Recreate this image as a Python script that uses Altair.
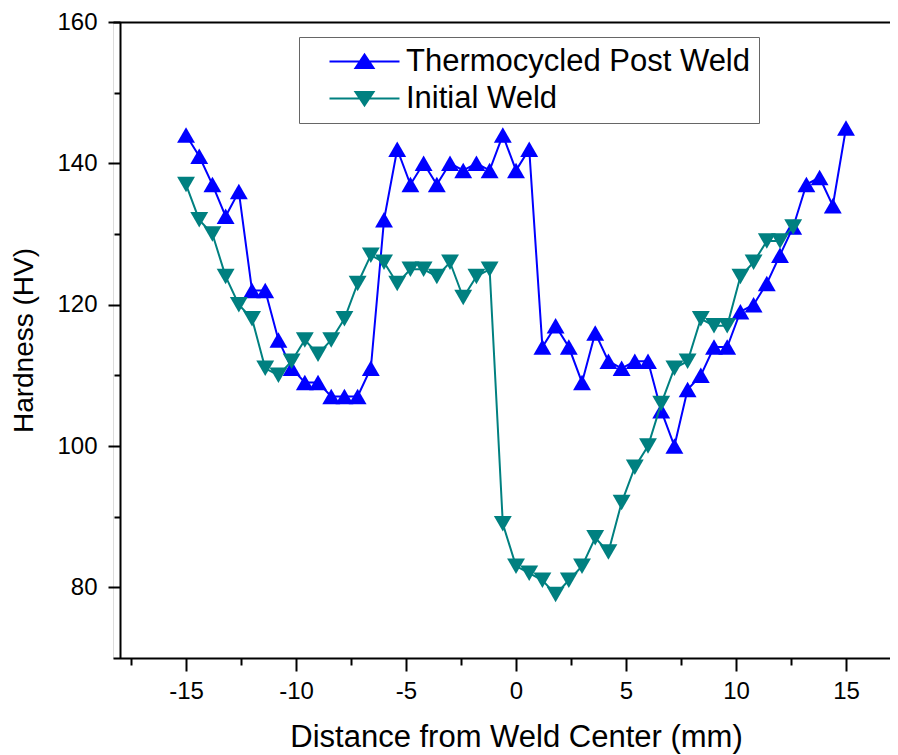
import altair as alt
import pandas as pd

# ---- data ----
series_names = ["Thermocycled Post Weld", "Initial Weld"]
series_colors = ["#0000FF", "#008080"]

thermo_x = [-15.0, -14.4, -13.8, -13.2, -12.6, -12.0, -11.4, -10.8, -10.2, -9.6,
            -9.0, -8.4, -7.8, -7.2, -6.6, -6.0, -5.4, -4.8, -4.2, -3.6,
            -3.0, -2.4, -1.8, -1.2, -0.6, 0.0, 0.6, 1.2, 1.8, 2.4,
            3.0, 3.6, 4.2, 4.8, 5.4, 6.0, 6.6, 7.2, 7.8, 8.4,
            9.0, 9.6, 10.2, 10.8, 11.4, 12.0, 12.6, 13.2, 13.8, 14.4, 15.0]
thermo_y = [144, 141, 137, 132.5, 136, 122, 122, 115, 111, 109,
            109, 107, 107, 107, 111, 132, 142, 137, 140, 137,
            140, 139, 140, 139, 144, 139, 142, 114, 117, 114,
            109, 116, 112, 111, 112, 112, 105, 100, 108, 110,
            114, 114, 119, 120, 123, 127, 131, 137, 138, 134, 145]

initial_x = [-15.0, -14.4, -13.8, -13.2, -12.6, -12.0, -11.4, -10.8, -10.2, -9.6,
             -9.0, -8.4, -7.8, -7.2, -6.6, -6.0, -5.4, -4.8, -4.2, -3.6,
             -3.0, -2.4, -1.8, -1.2, -0.6, 0.0, 0.6, 1.2, 1.8, 2.4,
             3.0, 3.6, 4.2, 4.8, 5.4, 6.0, 6.6, 7.2, 7.8, 8.4,
             9.0, 9.6, 10.2, 10.8, 11.4, 12.0, 12.6]
initial_y = [137, 132, 130, 124, 120, 118, 111, 110, 112, 115,
             113, 115, 118, 123, 127, 126, 123, 125, 125, 124,
             126, 121, 124, 125, 89, 83, 82, 81, 79, 81,
             83, 87, 85, 92, 97, 100, 106, 111, 112, 118,
             117, 117, 124, 126, 129, 129, 131]

x_major = [-15, -10, -5, 0, 5, 10, 15]
x_minor = [-17.5, -12.5, -7.5, -2.5, 2.5, 7.5, 12.5]
y_major = [80, 100, 120, 140, 160]
y_minor = [90, 110, 130, 150]

df = pd.concat([
    pd.DataFrame({"x": thermo_x, "y": thermo_y, "series": series_names[0]}),
    pd.DataFrame({"x": initial_x, "y": initial_y, "series": series_names[1]}),
], ignore_index=True)

FONT = "Liberation Sans"
xscale = alt.Scale(domain=[-18.32, 17.0], nice=False, zero=False)
yscale = alt.Scale(domain=[70, 160], nice=False, zero=False)
cscale = alt.Scale(domain=series_names, range=series_colors)
sscale = alt.Scale(domain=series_names, range=["triangle-up", "triangle-down"])

# legend symbols: a line segment with the marker on it
up_path = "M-3.5,0L3.5,0M-0.9,0.65L0,-0.7L0.9,0.65Z"
down_path = "M-3.5,0L3.5,0M-0.9,-0.65L0,0.7L0.9,-0.65Z"
lscale = alt.Scale(domain=series_names, range=[up_path, down_path])

legend = alt.Legend(
    title=None, orient="none", legendX=186, legendY=15,
    padding=9, fillColor="white", strokeColor="#666666",
    labelFont=FONT, labelFontSize=31, labelColor="black", labelLimit=600,
    symbolSize=400, symbolOffset=41, labelOffset=26, rowPadding=5,
    symbolStrokeWidth=2, symbolOpacity=1,
)

axis_common = dict(grid=False, domainColor="black", tickColor="black",
                   labelColor="black", titleColor="black", labelFont=FONT,
                   titleFont=FONT, titleFontWeight="normal")

x_major_axis = alt.Axis(orient="bottom", values=x_major, tickSize=13, tickWidth=2,
                        domainWidth=2, labelFontSize=24, labelPadding=8,
                        labelExpr="'' + datum.value",
                        title="Distance from Weld Center (mm)", titleFontSize=31,
                        titlePadding=19, titleX=403, labelFlush=False, **axis_common)
x_minor_axis = alt.Axis(orient="bottom", values=x_minor, tickSize=7, tickWidth=2,
                        domain=False, labels=False, title=None, **axis_common)
x_top_axis = alt.Axis(orient="top", domainWidth=2, ticks=False, labels=False,
                      title=None, **axis_common)

y_major_axis = alt.Axis(orient="left", values=y_major, tickSize=12, tickWidth=2,
                        domainWidth=2, labelFontSize=24, labelPadding=11, offset=-7,
                        labelExpr="'' + datum.value",
                        title="Hardness (HV)", titleFontSize=28, titlePadding=18,
                        labelFlush=False, **axis_common)
y_minor_axis = alt.Axis(orient="left", values=y_minor, tickSize=6, tickWidth=2,
                        domain=False, labels=False, title=None, offset=-7, **axis_common)

base = alt.Chart(df)
is_thermo = alt.datum.series == series_names[0]
is_initial = alt.datum.series == series_names[1]

blue_line = base.transform_filter(is_thermo).mark_line(strokeWidth=2).encode(
    x=alt.X("x:Q", scale=xscale, axis=x_major_axis),
    y=alt.Y("y:Q", scale=yscale, axis=y_major_axis),
    color=alt.Color("series:N", scale=cscale, legend=None),
)
blue_pts = base.transform_filter(is_thermo).mark_point(
    filled=True, size=320, opacity=1).encode(
    x=alt.X("x:Q", scale=xscale, axis=x_minor_axis),
    y=alt.Y("y:Q", scale=yscale, axis=y_minor_axis),
    color=alt.Color("series:N", scale=cscale, legend=None),
    shape=alt.Shape("series:N", scale=sscale, legend=None),
)
teal_line = base.transform_filter(is_initial).mark_line(strokeWidth=2).encode(
    x=alt.X("x:Q", scale=xscale, axis=x_top_axis),
    y=alt.Y("y:Q", scale=yscale, axis=None),
    color=alt.Color("series:N", scale=cscale, legend=None),
)
teal_pts = base.transform_filter(is_initial).mark_point(
    filled=True, size=320, opacity=1).encode(
    x=alt.X("x:Q", scale=xscale, axis=None),
    y=alt.Y("y:Q", scale=yscale, axis=None),
    color=alt.Color("series:N", scale=cscale, legend=None),
    shape=alt.Shape("series:N", scale=sscale, legend=None),
)
# legend-only layer (no rows pass the filter; entries come from the scale domain)
legend_layer = base.transform_filter("false").mark_point(
    filled=True, opacity=1, strokeWidth=2).encode(
    x=alt.X("x:Q", scale=xscale, axis=None),
    y=alt.Y("y:Q", scale=yscale, axis=None),
    color=alt.Color("series:N", scale=cscale, legend=legend),
    stroke=alt.Stroke("series:N", scale=cscale, legend=legend),
    shape=alt.Shape("series:N", scale=lscale, legend=legend),
)

chart = alt.layer(blue_line, blue_pts, teal_line, teal_pts, legend_layer).resolve_axis(
    x="independent", y="independent"
).resolve_scale(
    color="independent", shape="independent", stroke="independent"
).properties(
    width=777, height=636,
    autosize=alt.AutoSizeParams(type="none"),
    padding={"left": 105, "top": 14, "right": 0, "bottom": 97},
).configure_view(stroke=None).configure(background="white")

chart.save("out.html", embed_options={"renderer": "svg", "actions": False})
